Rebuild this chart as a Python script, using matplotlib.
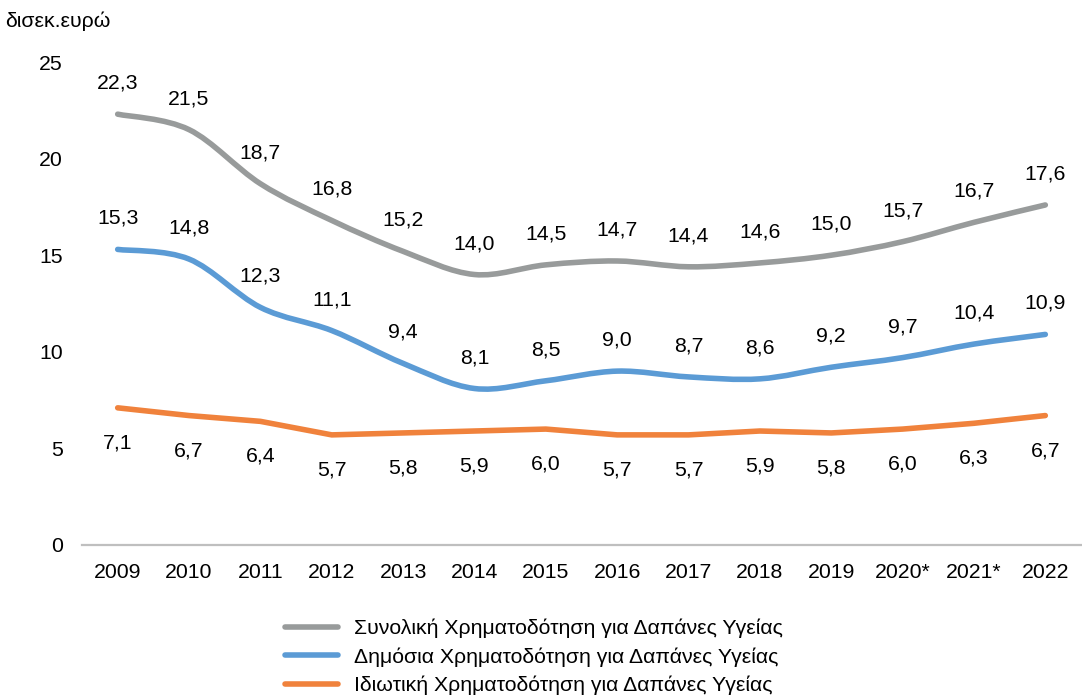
import numpy as np
import matplotlib
matplotlib.use("Agg")
import matplotlib.pyplot as plt
from matplotlib.path import Path
from matplotlib.patches import PathPatch
from matplotlib.lines import Line2D

years = ["2009", "2010", "2011", "2012", "2013", "2014", "2015", "2016",
         "2017", "2018", "2019", "2020*", "2021*", "2022"]
total = [22.3, 21.5, 18.7, 16.8, 15.2, 14.0, 14.5, 14.7, 14.4, 14.6, 15.0, 15.7, 16.7, 17.6]
public = [15.3, 14.8, 12.3, 11.1, 9.4, 8.1, 8.5, 9.0, 8.7, 8.6, 9.2, 9.7, 10.4, 10.9]
private = [7.1, 6.7, 6.4, 5.7, 5.8, 5.9, 6.0, 5.7, 5.7, 5.9, 5.8, 6.0, 6.3, 6.7]

names = ["Συνολική Χρηματοδότηση για Δαπάνες Υγείας",
         "Δημόσια Χρηματοδότηση για Δαπάνες Υγείας",
         "Ιδιωτική Χρηματοδότηση για Δαπάνες Υγείας"]
colors = ["#989b9b", "#5b9bd5", "#f0823c"]

plt.rcParams["font.family"] = ["Liberation Sans", "DejaVu Sans"]
FS = 15.3


def smooth_path(x, y):
    # Catmull-Rom style cubic Bezier through the data points
    pts = np.column_stack([x, y]).astype(float)
    n = len(pts)
    verts = [pts[0]]
    codes = [Path.MOVETO]
    for i in range(n - 1):
        p0 = pts[i - 1] if i > 0 else pts[i]
        p1 = pts[i]
        p2 = pts[i + 1]
        p3 = pts[i + 2] if i + 2 < n else pts[i + 1]
        c1 = p1 + (p2 - p0) / 6.0
        c2 = p2 - (p3 - p1) / 6.0
        verts += [c1, c2, p2]
        codes += [Path.CURVE4] * 3
    return Path(verts, codes)


fig = plt.figure(figsize=(10.82, 7.0), dpi=100)
ax = fig.add_axes([82 / 1082, 1 - 545 / 700, 1 - 83 / 1082, (545 - 62) / 700])

x = np.arange(len(years))
lw = 4.0

for vals, col in [(total, colors[0]), (public, colors[1])]:
    patch = PathPatch(smooth_path(x, vals), facecolor="none", edgecolor=col,
                      linewidth=lw, capstyle="round", joinstyle="round", zorder=3)
    ax.add_patch(patch)
    for xi, v in zip(x, vals):
        ax.annotate(f"{v:.1f}".replace(".", ","), (xi, v), xytext=(0, 31),
                    textcoords="offset pixels", ha="center", va="center", fontsize=FS)

ax.plot(x, private, color=colors[2], linewidth=lw, solid_capstyle="round",
        solid_joinstyle="round", zorder=3)
for xi, v in zip(x, private):
    ax.annotate(f"{v:.1f}".replace(".", ","), (xi, v), xytext=(0, -35),
                textcoords="offset pixels", ha="center", va="center", fontsize=FS)

ax.set_xlim(-0.5, len(years) - 0.5)
ax.set_ylim(0, 25)
ax.set_yticks([0, 5, 10, 15, 20, 25])
ax.set_xticks(x)
ax.set_xticklabels(years)
ax.tick_params(axis="both", length=0, labelsize=FS)
ax.tick_params(axis="x", pad=13)
ax.tick_params(axis="y", pad=14)
for s in ["top", "right", "left"]:
    ax.spines[s].set_visible(False)
ax.spines["bottom"].set_color("#bfbfbf")
ax.spines["bottom"].set_linewidth(1.6)

handles = [Line2D([0], [0], color=c, linewidth=lw, solid_capstyle="round") for c in colors]
fig.legend(handles, names, loc="center", bbox_to_anchor=(534 / 1082, 1 - 657 / 700),
           frameon=False, fontsize=FS, handlelength=2.5, handletextpad=0.75,
           labelspacing=0.42)

fig.text(5 / 1082, 1 - 21 / 700, "δισεκ.ευρώ", fontsize=FS, ha="left", va="center")

fig.savefig("out.png", dpi=100)
